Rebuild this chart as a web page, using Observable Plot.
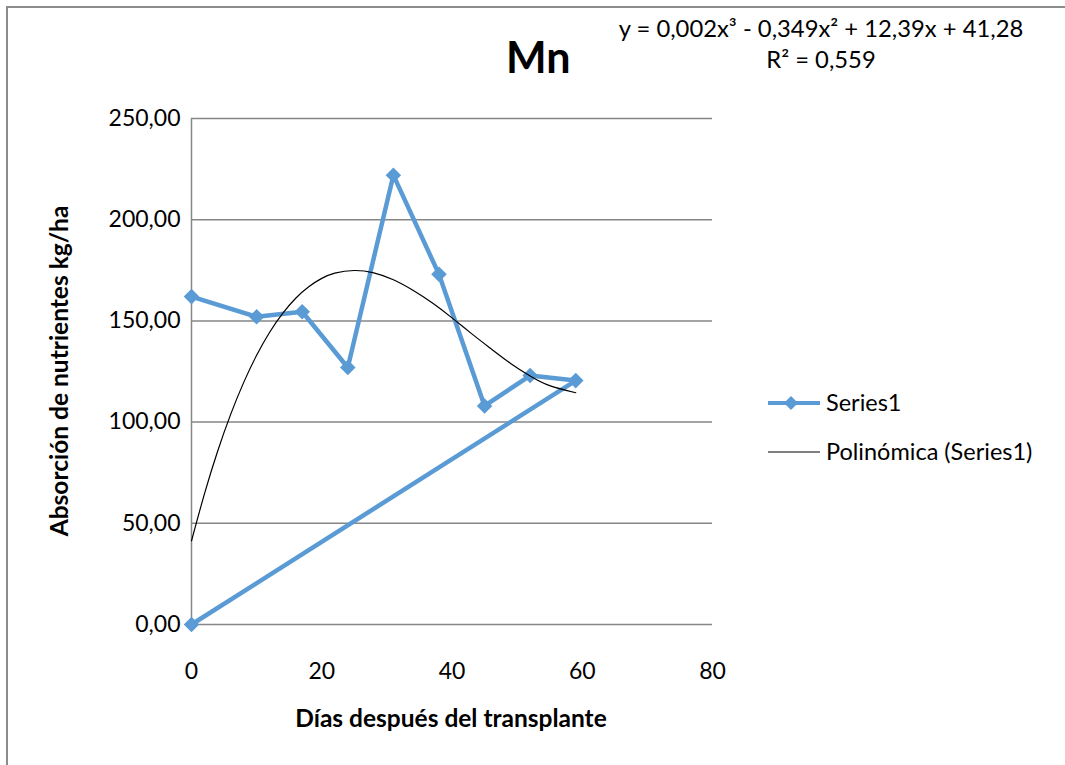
<!DOCTYPE html>
<html><head><meta charset="utf-8">
<script src="https://cdn.jsdelivr.net/npm/d3@7"></script>
<script src="https://cdn.jsdelivr.net/npm/@observablehq/plot@0.6"></script>
<style>
body{margin:0;background:#fff;}
#wrap{position:relative;width:1065px;height:765px;overflow:hidden;background:#fff;}
.frame{position:absolute;left:6px;top:6px;width:1200px;height:1200px;border-left:2px solid #8c8c8c;border-top:2px solid #8c8c8c;box-sizing:border-box;}
#chart{position:absolute;left:0;top:0;}
#over{position:absolute;left:0;top:0;}
</style></head><body>
<div id="wrap"><div class="frame"></div><div id="chart"></div>
<svg id="over" width="1065" height="765" font-family="Lato, 'Open Sans', sans-serif">
  <text x="506" y="73" font-size="43" font-weight="bold">Mn</text>
  <text x="821" y="37" font-size="23.8" text-anchor="middle">y = 0,002x³ - 0,349x² + 12,39x + 41,28</text>
  <text x="821" y="68" font-size="23.8" text-anchor="middle">R² = 0,559</text>
  <line x1="768" x2="820" y1="403" y2="403" stroke="#5B9BD5" stroke-width="4"/>
  <path d="M791,396 L798,403 L791,410 L784,403 Z" fill="#5B9BD5"/>
  <text x="826" y="411" font-size="23.5">Series1</text>
  <line x1="768" x2="820" y1="452" y2="452" stroke="#000" stroke-width="1.2"/>
  <text x="826" y="460" font-size="23.5">Polinómica (Series1)</text>
  <text x="451" y="727" font-size="24.5" font-weight="bold" text-anchor="middle">Días después del transplante</text>
  <text transform="translate(68,371) rotate(-90)" font-size="24.5" font-weight="bold" text-anchor="middle">Absorción de nutrientes kg/ha</text>
</svg>
</div>
<script>
const days = [0, 10, 17, 24, 31, 38, 45, 52, 59, 0];
const absorption = [162, 152, 154.5, 127, 222, 173, 108, 123, 120.5, 0];
// Polynomial trendline
const trendDays = [0, 2, 4, 6, 8, 10, 12, 14, 16, 18, 20, 22, 25, 28, 31, 34, 37, 40, 43, 46, 49, 52, 55, 59];
const trendValues = [41.3, 64.7, 85.5, 103.7, 119.5, 133, 144.4, 153.7, 161.2, 166.9, 171, 173.6, 174.9, 173.7, 170.3, 165.1, 158.8, 151.5, 143.7, 136.2, 129, 122.8, 118, 114.5];
const yTicks = [0, 50, 100, 150, 200, 250];
const xTicks = [0, 20, 40, 60, 80];

const data = days.map((d, i) => ({x: d, y: absorption[i]}));
const trend = trendDays.map((d, i) => ({x: d, y: trendValues[i]}));

const fmt = d => d.toFixed(2).replace(".", ",");

const chart = Plot.plot({
  width: 1065,
  height: 765,
  marginLeft: 191,
  marginRight: 353,
  marginTop: 118,
  marginBottom: 141,
  style: {fontFamily: "Lato, 'Open Sans', sans-serif", fontSize: "23px", color: "#000", background: "transparent"},
  x: {domain: [0, 80]},
  y: {domain: [0, 250]},
  marks: [
    Plot.gridY(yTicks, {stroke: "#868686", strokeOpacity: 1, strokeWidth: 1.5}),
    Plot.ruleX([0], {stroke: "#868686", strokeWidth: 1.5}),
    Plot.axisY({ticks: yTicks, tickSize: 0, tickPadding: 11, tickFormat: fmt, label: null, fill: "#000"}),
    Plot.axisX({ticks: xTicks, tickSize: 0, tickPadding: 38, label: null, fill: "#000"}),
    Plot.line(data, {x: "x", y: "y", stroke: "#5B9BD5", strokeWidth: 4.5, strokeLinejoin: "miter"}),
    Plot.dot(data, {x: "x", y: "y", symbol: "diamond2", r: 7, fill: "#5B9BD5", stroke: "none"}),
    Plot.line(trend, {x: "x", y: "y", stroke: "#000", strokeWidth: 1.2, curve: "natural"})
  ]
});
document.getElementById("chart").appendChild(chart);
</script>
</body></html>
